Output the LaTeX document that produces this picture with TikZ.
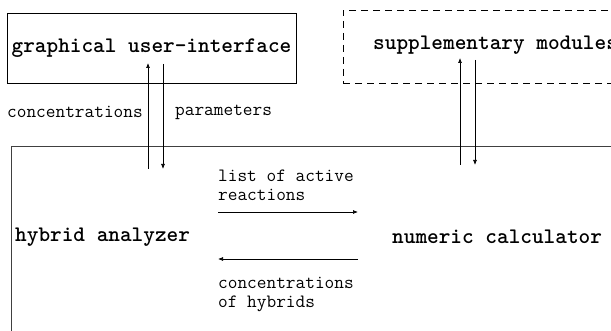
\documentclass[tikz,border=0pt]{standalone}
\usepackage{fontspec}
\usetikzlibrary{arrows.meta}
\begin{document}
\begin{tikzpicture}[x=1pt,y=-1pt,
  title/.style={font=\ttfamily\bfseries\fontsize{22.2}{26}\selectfont, inner sep=0},
  lbl/.style={font=\ttfamily\fontsize{18.8}{19}\selectfont, inner sep=0, align=left},
  box/.style={draw, line width=0.8pt, inner sep=0},
  arr/.style={-{Latex[length=5pt,width=4pt]}, line width=0.7pt}]
\useasboundingbox (0,0) rectangle (611,331);
\clip (0,0) rectangle (611,331);
% boxes
\node[box, minimum width=289pt, minimum height=70pt, title] (gui) at (151.5,48) {graphical user-interface};
\node[box, dashed, dash pattern=on 7pt off 5pt, minimum width=330pt, minimum height=73pt] (supbox) at (508,46.5) {};
\node[title, anchor=west] (supt) at (373,45) {supplementary modules};
\node[box, draw=black!75, minimum width=689pt, minimum height=254pt] (main) at (355.5,273) {};
\node[title, anchor=west] (hyb) at (15,237) {hybrid analyzer};
\node[title, anchor=west] (num) at (392,237) {numeric calculator};
% coordinates
\coordinate (g1s) at (148,169); \coordinate (g1e) at (148,63);
\coordinate (g2s) at (163,64);  \coordinate (g2e) at (163,169);
\coordinate (s1s) at (460,165); \coordinate (s1e) at (460,58);
\coordinate (s2s) at (475,60);  \coordinate (s2e) at (475,165);
\coordinate (r1s) at (218,212); \coordinate (r1e) at (358,212);
\coordinate (r2s) at (358,259); \coordinate (r2e) at (218,259);
% arrows
\draw[arr] (g1s) -- (g1e);
\draw[arr] (g2s) -- (g2e);
\draw[arr] (s1s) -- (s1e);
\draw[arr] (s2s) -- (s2e);
\draw[arr] (r1s) -- (r1e);
\draw[arr] (r2s) -- (r2e);
% labels
\node[lbl, anchor=west] (conc) at (7,112) {concentrations};
\node[lbl, anchor=west] (par) at (175,112) {parameters};
\node[lbl, anchor=west] (lar) at (218,185.5) {list of active\\reactions};
\node[lbl, anchor=west] (coh) at (218,294) {concentrations\\of hybrids};
\end{tikzpicture}
\end{document}
